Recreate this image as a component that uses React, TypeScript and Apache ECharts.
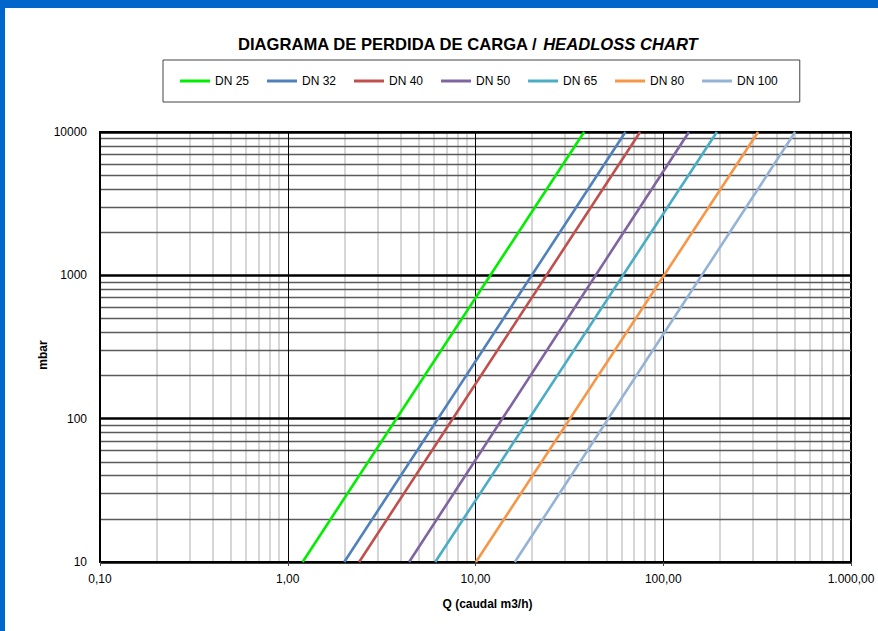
import React, { useEffect, useRef } from 'react';
import * as echarts from 'echarts';

const seriesNames = ['DN 25', 'DN 32', 'DN 40', 'DN 50', 'DN 65', 'DN 80', 'DN 100'];
const seriesColors = ['#00ee00', '#4f81bd', '#c0504d', '#8064a2', '#4bacc6', '#f79646', '#95b3d7'];
// head loss (mbar) at the two ends of each line
const headLow = 10;
const headHigh = 10000;
// flow Q (m3/h) read at 10 mbar and at 10000 mbar
const flowAtLow = [1.2, 2.0, 2.4, 4.43, 6.1, 10.05, 16.2];
const flowAtHigh = [37.9, 62.9, 75.3, 137, 193, 320, 504];

const xDecades = [0.1, 1, 10, 100];
const yDecades = [10, 100, 1000];
const minorSteps = [2, 3, 4, 5, 6, 7, 8, 9];

const FONT = '"Liberation Sans", Arial, sans-serif';

function fmtX(v: number): string {
  const s = v.toFixed(2);
  const [int, dec] = s.split('.');
  const intFmt = int.replace(/\B(?=(\d{3})+(?!\d))/g, '.');
  return intFmt + ',' + dec;
}

export default function App() {
  const ref = useRef<HTMLDivElement>(null);
  useEffect(() => {
    if (!ref.current) return;
    const chart = echarts.init(ref.current, null, { renderer: 'svg' });
    const xMinor: number[] = [];
    xDecades.forEach((d) => minorSteps.forEach((m) => xMinor.push(+(d * m).toPrecision(6))));
    const yMinor: number[] = [];
    yDecades.forEach((d) => minorSteps.forEach((m) => yMinor.push(d * m)));

    const dataSeries = seriesNames.map((name, i) => ({
      name,
      type: 'line',
      data: [
        [flowAtLow[i], headLow],
        [flowAtHigh[i], headHigh],
      ],
      showSymbol: false,
      symbol: 'none',
      z: 10,
      lineStyle: { color: seriesColors[i], width: 2.6 },
      itemStyle: { color: seriesColors[i] },
    }));

    const option: any = {
      animation: false,
      backgroundColor: '#ffffff',
      title: {
        text: '{a|DIAGRAMA DE PERDIDA DE CARGA / }{b|HEADLOSS CHART}',
        left: 233,
        top: 31,
        textStyle: {
          rich: {
            a: { fontFamily: FONT, fontWeight: 'bold', fontSize: 16.6, color: '#000' },
            b: { fontFamily: FONT, fontWeight: 'bold', fontStyle: 'italic', fontSize: 16.6, color: '#000' },
          },
        },
      },
      legend: {
        data: seriesNames,
        left: 163,
        top: 60,
        padding: [15, 22, 15, 17],
        itemGap: 18,
        itemWidth: 30,
        itemHeight: 3,
        icon: 'rect',
        borderColor: '#444',
        borderWidth: 1,
        selectedMode: false,
        textStyle: { fontFamily: FONT, fontSize: 12, color: '#000' },
      },
      graphic: [
        { type: 'rect', shape: { x: 0, y: 0, width: 878, height: 8 }, style: { fill: '#0066cc' }, z: 100 },
        { type: 'rect', shape: { x: 0, y: 0, width: 5, height: 631 }, style: { fill: '#0066cc' }, z: 100 },
      ],
      grid: {
        left: 100,
        right: 27,
        top: 132,
        bottom: 69,
        show: true,
        borderColor: '#000',
        borderWidth: 2,
        backgroundColor: 'transparent',
      },
      xAxis: {
        type: 'log',
        logBase: 10,
        min: 0.1,
        max: 1000,
        name: 'Q (caudal m3/h)',
        nameLocation: 'middle',
        nameGap: 36,
        nameTextStyle: { fontFamily: FONT, fontWeight: 'bold', fontSize: 12, color: '#000', padding: [0, 0, 0, 24] },
        axisLine: { show: true, lineStyle: { color: '#000', width: 2 } },
        axisTick: { show: true, length: 4, lineStyle: { color: '#444' } },
        axisLabel: { fontFamily: FONT, fontSize: 12, color: '#000', margin: 11, formatter: (v: number) => fmtX(v) },
        splitLine: { show: true, lineStyle: { color: '#000', width: 1 } },
        z: 6,
      },
      yAxis: {
        type: 'log',
        logBase: 10,
        min: 10,
        max: 10000,
        name: 'mbar',
        nameLocation: 'middle',
        nameGap: 51,
        nameMoveOverlap: false,
        nameRotate: 90,
        nameTextStyle: { fontFamily: FONT, fontWeight: 'bold', fontSize: 12, color: '#000', padding: [0, 16, 0, 0] },
        axisLine: { show: true, lineStyle: { color: '#000', width: 2 } },
        axisTick: { show: false },
        axisLabel: { fontFamily: FONT, fontSize: 12, color: '#000', margin: 13, formatter: (v: number) => String(Math.round(v)) },
        splitLine: { show: true, lineStyle: { color: '#000', width: 2.6 } },
        z: 6,
      },
      series: [
        {
          name: 'minorX',
          type: 'line',
          data: [],
          silent: true,
          markLine: {
            silent: true,
            symbol: ['none', 'none'],
            label: { show: false },
            animation: false,
            z: 3,
            lineStyle: { color: '#c8c8c8', width: 1.5, type: 'solid' },
            data: xMinor.map((v) => ({ xAxis: v })),
          },
        },
        {
          name: 'minorY',
          type: 'line',
          data: [],
          silent: true,
          markLine: {
            silent: true,
            symbol: ['none', 'none'],
            label: { show: false },
            animation: false,
            z: 4,
            lineStyle: { color: '#5a5a5a', width: 1.4, type: 'solid' },
            data: yMinor.map((v) => ({ yAxis: v })),
          },
        },
        ...dataSeries,
      ],
    };
    chart.setOption(option);
    return () => chart.dispose();
  }, []);
  return (
    <div
      ref={ref}
      style={{ position: 'fixed', left: 0, top: 0, width: 878, height: 631, background: '#fff' }}
    />
  );
}
